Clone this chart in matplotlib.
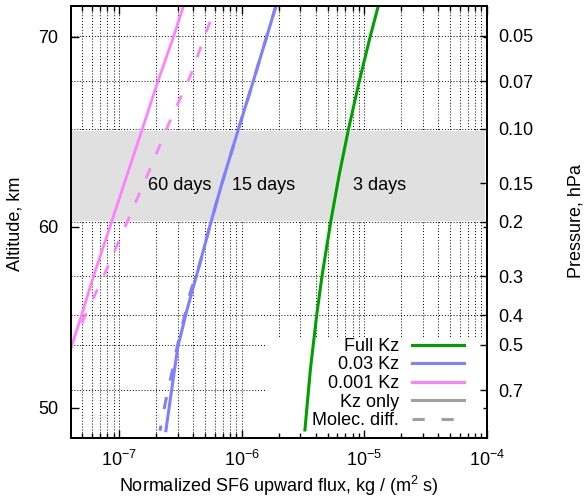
import matplotlib
matplotlib.use('Agg')
import matplotlib.pyplot as plt
import numpy as np
from matplotlib.lines import Line2D
from matplotlib.patches import Rectangle
from matplotlib.ticker import FixedLocator, NullFormatter, NullLocator

plt.rcParams['font.family'] = ['Liberation Sans', 'DejaVu Sans']
plt.rcParams['mathtext.fontset'] = 'custom'
plt.rcParams['mathtext.rm'] = 'Liberation Sans'
plt.rcParams['mathtext.it'] = 'Liberation Sans:italic'
plt.rcParams['font.size'] = 13

# flux in kg/(m2 s), pressure in hPa
full_flux = [1.297e-5, 1.114e-5, 9.08e-6, 7.42e-6, 6.22e-6, 5.34e-6, 4.52e-6, 4.08e-6, 3.62e-6, 3.27e-6]
full_p = [0.040, 0.0503, 0.070, 0.100, 0.141, 0.197, 0.297, 0.400, 0.603, 0.942]

k003_flux = [1.898e-6, 1.594e-6, 1.240e-6, 9.39e-7, 6.88e-7, 5.47e-7, 4.51e-7, 3.57e-7, 3.01e-7, 2.82e-7, 2.40e-7]
k003_p = [0.040, 0.0503, 0.070, 0.100, 0.150, 0.207, 0.2756, 0.385, 0.506, 0.603, 0.947]
k003_mol_flux = [1.898e-6, 1.594e-6, 1.240e-6, 9.39e-7, 6.88e-7, 5.47e-7, 4.51e-7, 3.78e-7, 3.33e-7, 2.97e-7, 2.68e-7, 2.40e-7, 2.15e-7]
k003_mol_p = [0.040, 0.0503, 0.070, 0.100, 0.150, 0.207, 0.2756, 0.340, 0.420, 0.506, 0.618, 0.754, 0.947]

k0001_flux = [3.34e-7, 2.77e-7, 2.07e-7, 1.542e-7, 1.099e-7, 8.67e-8, 6.14e-8, 4.93e-8, 4.08e-8, 3.56e-8]
k0001_p = [0.040, 0.0503, 0.070, 0.100, 0.150, 0.1996, 0.301, 0.400, 0.506, 0.603]
k0001_mol_flux = [5.50e-7, 3.78e-7, 2.51e-7, 1.726e-7, 1.148e-7, 7.64e-8, 5.08e-8, 4.93e-8]
k0001_mol_p = [0.045, 0.0677, 0.0971, 0.1388, 0.202, 0.293, 0.415, 0.431]

p_ticks = [0.05, 0.07, 0.10, 0.15, 0.2, 0.3, 0.4, 0.5, 0.7]
p_labels = ['0.05', '0.07', '0.10', '0.15', '0.2', '0.3', '0.4', '0.5', '0.7']
alt_ticks = [50, 60, 70]
alt_tick_p = [0.797, 0.207, 0.0503]

band_p = (0.1015, 0.1985)
times = ['60 days', '15 days', '3 days']
times_x = [3.13e-7, 1.49e-6, 1.33e-5]

green = '#00a000'
blue = '#8080ff'
pink = '#ff80ff'
gray = '#a0a0a0'
dash = (0, (4, 5.5))

fig = plt.figure(figsize=(5.85, 4.99), dpi=100)
ax = fig.add_axes([71/585, 1 - 438/499, 416/585, 432/499])
axl = ax.twinx()   # left axis: altitude
ax.set_xscale('log')
ax.set_yscale('log')
ax.set_xlim(4.04e-8, 1e-4)
ax.set_ylim(1.0, 0.04)

# grid (drawn by hand so the key box and band can sit above it)
grid_x = np.outer(10.0 ** np.arange(-8, -4), np.arange(1, 10)).ravel()
grid_x = grid_x[(grid_x > 4.04e-8) & (grid_x < 1e-4)]
ax.vlines(grid_x, 0.04, 1.0, colors='k', linestyles=(0, (1, 2)), linewidth=0.7, zorder=0.5)
ax.hlines(p_ticks, 4.04e-8, 1e-4, colors='k', linestyles=(0, (1, 2)), linewidth=0.7, zorder=0.5)

ax.axhspan(band_p[0], band_p[1], xmin=0, xmax=0.995, color='#e0e0e0', lw=0, zorder=0.8)
ax.add_patch(Rectangle((0.4663, 0), 0.529, 0.2338, transform=ax.transAxes,
                       color='white', lw=0, zorder=0.9))

ax.plot(full_flux, full_p, color=green, lw=2.2, zorder=2)
ax.plot(k003_mol_flux, k003_mol_p, color=blue, lw=2.2, ls=dash, zorder=2)
ax.plot(k003_flux, k003_p, color=blue, lw=2.2, zorder=2)
ax.plot(k0001_mol_flux, k0001_mol_p, color=pink, lw=2.0, ls=dash, zorder=2)
ax.plot(k0001_flux, k0001_p, color=pink, lw=2.0, zorder=2)

for t, x in zip(times, times_x):
    ax.text(x, 0.1576, t, ha='center', va='baseline', zorder=3)

# right axis: pressure
ax.yaxis.set_ticks_position('right')
ax.set_yticks(p_ticks, labels=p_labels)
ax.yaxis.set_minor_locator(FixedLocator(alt_tick_p))
ax.yaxis.set_minor_formatter(NullFormatter())
ax.tick_params(axis='y', which='major', direction='in', length=5, width=1, pad=8,
               left=False, labelleft=False, right=True, labelright=True)
ax.tick_params(axis='y', which='minor', direction='in', length=3, width=1,
               left=False, right=True)
ax.tick_params(axis='x', which='both', direction='in', top=True, bottom=True, width=1)
ax.tick_params(axis='x', which='major', length=6, pad=8.5)
ax.tick_params(axis='x', which='minor', length=3.5)
ax.xaxis.set_minor_formatter(NullFormatter())
for s in ax.spines.values():
    s.set_linewidth(1.3)

axl.set_yscale('log')
axl.set_ylim(1.0, 0.04)
axl.set_yticks(alt_tick_p, labels=[str(a) for a in alt_ticks])
axl.yaxis.set_minor_locator(NullLocator())
axl.tick_params(axis='y', which='both', direction='in', length=6, width=1, pad=9,
                left=True, labelleft=True, right=False, labelright=False)
for s in axl.spines.values():
    s.set_linewidth(1.3)

handles = [Line2D([], [], color=green, lw=2.2),
           Line2D([], [], color=blue, lw=2.2),
           Line2D([], [], color=pink, lw=2.2),
           Line2D([], [], color=gray, lw=2.2),
           Line2D([], [], color=gray, lw=2.2, ls=dash)]
labels = ['Full Kz', '0.03 Kz', '0.001 Kz', 'Kz only', 'Molec. diff.']
axl.legend(handles, labels, loc='lower right', bbox_to_anchor=(0.9447, 0.02),
           frameon=False, markerfirst=False, borderpad=0, borderaxespad=0,
           labelspacing=0.09, handlelength=2.88, handletextpad=0.72)

fig.text(279/585, 1 - 491.5/499, 'Normalized SF6 upward flux, kg / (m$^2$ s)',
         ha='center', va='baseline')
fig.text(15/585, 1 - 224/499, 'Altitude, km', rotation=90, ha='center', va='center')
fig.text(576/585, 1 - 221/499, 'Pressure, hPa', rotation=90, ha='center', va='center')

fig.savefig('out.png', dpi=100)
